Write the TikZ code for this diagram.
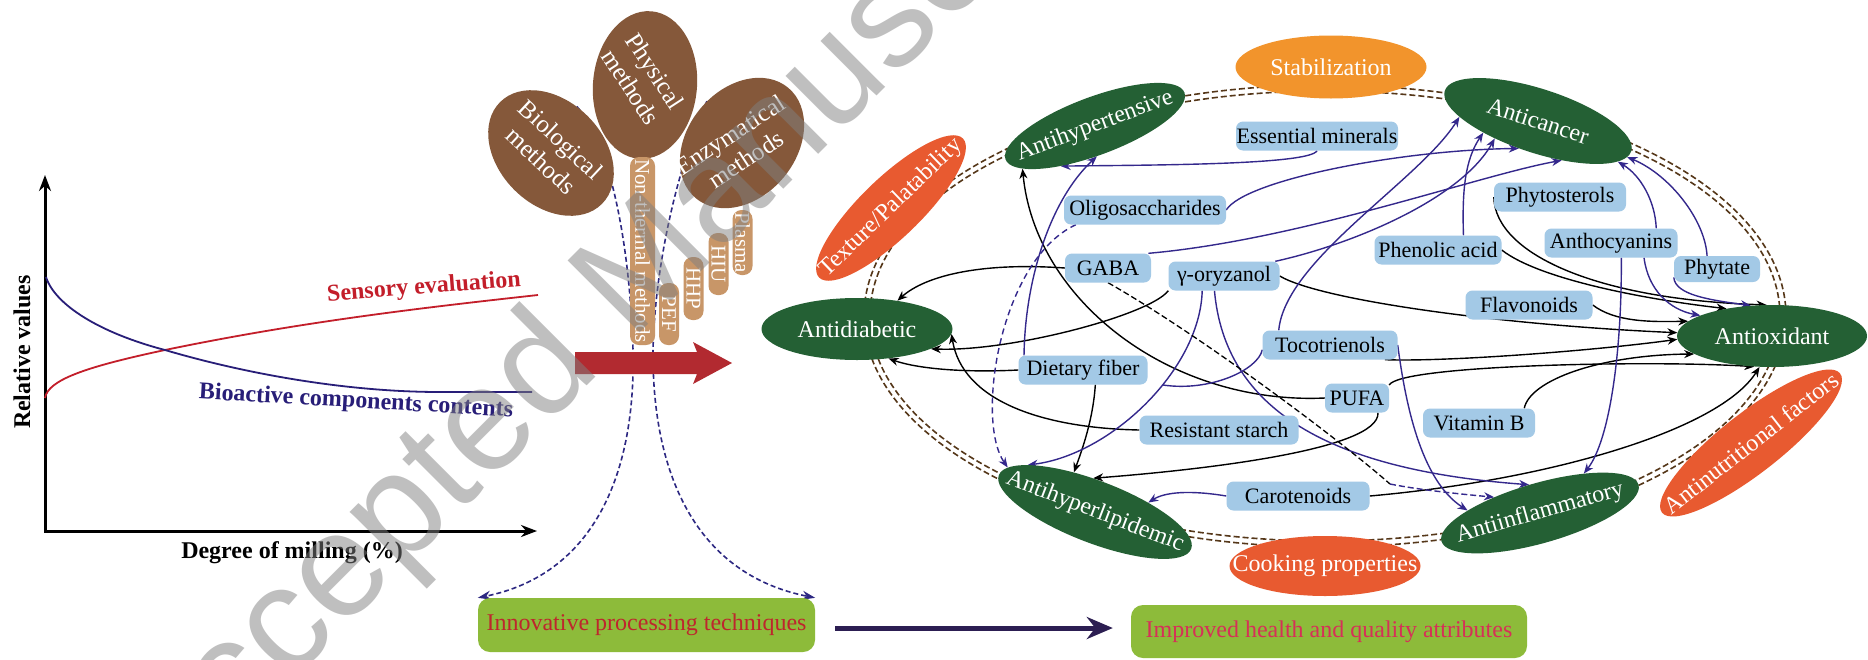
\documentclass[tikz,border=0pt]{standalone}
\usepackage{fontspec}
\setmainfont{Liberation Serif}
\newfontfamily\wmfont{Liberation Sans}
\usetikzlibrary{shapes.geometric,arrows.meta}
\pgfdeclarelayer{bg}\pgfdeclarelayer{edges}\pgfdeclarelayer{wm}
\pgfsetlayers{bg,edges,main,wm}
\definecolor{dgreen}{RGB}{36,96,52}
\definecolor{ored}{RGB}{232,90,48}
\definecolor{stabor}{RGB}{242,148,44}
\definecolor{mbrown}{RGB}{133,88,58}
\definecolor{mtan}{RGB}{200,150,104}
\definecolor{lblue}{RGB}{163,201,230}
\definecolor{lgreen}{RGB}{141,187,58}
\definecolor{arrred}{RGB}{178,42,48}
\definecolor{dashbr}{RGB}{85,55,25}
\definecolor{pline}{RGB}{52,40,140}
\definecolor{gred}{RGB}{195,30,42}
\definecolor{gblue}{RGB}{40,30,120}
\definecolor{navyarr}{RGB}{44,30,82}
\definecolor{innovred}{RGB}{190,38,45}
\definecolor{imprred}{RGB}{214,48,88}
\definecolor{dnavy}{RGB}{45,40,130}
\definecolor{wmgray}{RGB}{128,128,128}
\tikzset{
 ell/.style={ellipse, inner sep=0pt},
 gell/.style={ell, fill=dgreen},
 oell/.style={ell, fill=ored},
 etxt/.style={text=white, inner sep=0pt, font=\fontsize{24}{28}\selectfont},
 bx/.style={fill=lblue, rounded corners=7pt, inner sep=0pt, minimum height=29pt, font=\fontsize{22}{24}\selectfont, text=black},
 mtag/.style={fill=mtan, rounded corners=9pt, inner sep=0pt, text=white, font=\fontsize{21}{24}\selectfont, rotate=-90},
 meth/.style={ellipse, fill=mbrown, inner sep=0pt},
 methtxt/.style={text=white, align=center, inner sep=0pt, font=\fontsize{25}{29}\selectfont},
 conn/.style={line width=1.4pt, -{Stealth[length=10pt,width=8pt]}},
 bc/.style={conn, draw=black},
 pc/.style={conn, draw=pline},
 gbox/.style={fill=lgreen, rounded corners=12pt, inner sep=0pt, font=\fontsize{24}{28}\selectfont},
 gaxis/.style={line width=3pt},
 glabel/.style={inner sep=0pt, font=\bfseries\fontsize{24}{28}\selectfont},
 mdash/.style={draw=dnavy, line width=1.6pt, dash pattern=on 5pt off 3pt, -{Stealth[length=13pt,width=9pt]}},
 brdash/.style={draw=dashbr, line width=1.6pt, dash pattern=on 6pt off 3pt},
}
\begin{document}
\begin{tikzpicture}[x=1pt,y=-1pt]
\useasboundingbox (0,0) rectangle (1868,659);
\begin{pgfonlayer}{bg}
\fill[white] (0,0) rectangle (1868,659);
\draw[brdash] (1325,316) ellipse (455pt and 225pt);
\draw[brdash] (1325,316) ellipse (461pt and 231pt);
\end{pgfonlayer}

% ---------- left graph ----------
\draw[gaxis, {Stealth[length=16pt,width=12pt]}-{Stealth[length=16pt,width=12pt]}] (45,175) -- (45,531) -- (537,531);
\draw[gred, line width=1.8pt] (45,398) .. controls (48,380) and (85,367) .. (165,350) .. controls (300,322) and (420,308) .. (538,295);
\draw[gblue, line width=1.8pt] (46,277) .. controls (55,305) and (100,333) .. (165,350) .. controls (250,375) and (350,392) .. (440,392) -- (532,392);
\node[glabel, rotate=90] (yl) at (22,352) {Relative values};
\node[glabel] (xl) at (292,553) {Degree of milling (\%)};
\node[glabel, text=gred, rotate=4.5] (sens) at (424,288) {Sensory evaluation};
\node[glabel, text=gblue, rotate=-3.3] (bioa) at (356,402) {Bioactive components contents};

% ---------- middle ----------
\node[meth, minimum width=148pt, minimum height=104pt, rotate=85] (phys) at (645,85) {};
\node[meth, minimum width=144pt, minimum height=104pt, rotate=-45] (bio) at (551,153) {};
\node[meth, minimum width=144pt, minimum height=108pt, rotate=50] (enz) at (742,143) {};
\node[methtxt, rotate=-57] (phys-t) at (643,79) {Physical\\methods};
\node[methtxt, rotate=-43] (bio-t) at (551,150) {Biological\\methods};
\node[methtxt, rotate=33] (enz-t) at (738,147) {Enzymatical\\methods};

\node[mtag, minimum width=188pt, minimum height=25pt] (nth) at (642.5,251) {Non-thermal methods};
\node[mtag, minimum width=62pt, minimum height=20pt] (pef) at (669,314) {PEF};
\node[mtag, minimum width=63pt, minimum height=20pt] (hhp) at (693.5,288.5) {HHP};
\node[mtag, minimum width=62pt, minimum height=20pt] (hiu) at (718.5,264) {HIU};
\node[mtag, minimum width=65pt, minimum height=20pt] (plas) at (742.5,242.5) {Plasma};

\fill[arrred] (575,352) -- (697,352) -- (693,342) -- (732,363) -- (693,384) -- (697,374) -- (575,374) -- cycle;

\node[gbox, minimum width=337pt, minimum height=54pt, text=innovred] (innov) at (646.5,625) {Innovative processing techniques};
\node[gbox, minimum width=396pt, minimum height=53pt, text=imprred] (impr) at (1329,631.5) {Improved health and quality attributes};

% ---------- network nodes ----------
\node[ell, fill=stabor, minimum width=191pt, minimum height=63pt] (stab) at (1331,67) {};
\node[etxt] (stab-t) at (stab) {Stabilization};
\node[gell, minimum width=191pt, minimum height=58pt, rotate=20.5] (ahyp) at (1095,126) {};
\node[etxt, rotate=20.5] (ahyp-t) at (ahyp) {Antihypertensive};
\node[gell, minimum width=196pt, minimum height=64pt, rotate=-18] (acan) at (1538,121) {};
\node[etxt, rotate=-18] (acan-t) at (acan) {Anticancer};
\node[oell, minimum width=200pt, minimum height=60pt, rotate=44] (tex) at (891,208) {};
\node[etxt, rotate=44] (tex-t) at (tex) {Texture/Palatability};
\node[gell, minimum width=191pt, minimum height=62pt] (adia) at (857,329) {};
\node[etxt] (adia-t) at (adia) {Antidiabetic};
\node[gell, minimum width=190pt, minimum height=62pt] (aox) at (1772,336) {};
\node[etxt] (aox-t) at (aox) {Antioxidant};
\node[oell, minimum width=226pt, minimum height=60pt, rotate=38] (anut) at (1751,443) {};
\node[etxt, rotate=38] (anut-t) at (anut) {Antinutritional factors};
\node[gell, minimum width=205pt, minimum height=60pt, rotate=16] (ainf) at (1540,513) {};
\node[etxt, rotate=16] (ainf-t) at (ainf) {Antiinflammatory};
\node[gell, minimum width=206pt, minimum height=62pt, rotate=-21] (ahl) at (1095,512) {};
\node[etxt, rotate=-21] (ahl-t) at (ahl) {Antihyperlipidemic};
\node[oell, minimum width=191pt, minimum height=60pt] (cook) at (1325,566) {};
\node[etxt] (cook-t) at (cook) {Cooking properties};

\node[bx, minimum width=162pt] (essm) at (1317,136) {Essential minerals};
\node[bx, minimum width=162pt] (olig) at (1145,210) {Oligosaccharides};
\node[bx, minimum width=86pt] (gaba) at (1108,268) {GABA};
\node[bx, minimum width=111pt] (oryz) at (1224,276) {γ-oryzanol};
\node[bx, minimum width=127pt] (phen) at (1438,250) {Phenolic acid};
\node[bx, minimum width=132pt] (phyt) at (1560,197) {Phytosterols};
\node[bx, minimum width=133pt] (anth) at (1611,243) {Anthocyanins};
\node[bx, minimum width=86pt, minimum height=26pt] (phyta) at (1717,269) {Phytate};
\node[bx, minimum width=127pt] (flav) at (1529,305) {Flavonoids};
\node[bx, minimum width=135pt] (toco) at (1330,345) {Tocotrienols};
\node[bx, minimum width=129pt] (dfib) at (1083,370) {Dietary fiber};
\node[bx, minimum width=64pt] (pufa) at (1357,398) {PUFA};
\node[bx, minimum width=112pt] (vitb) at (1479,423) {Vitamin B};
\node[bx, minimum width=159pt] (rst) at (1219,430) {Resistant starch};
\node[bx, minimum width=143pt] (caro) at (1298,496) {Carotenoids};

% ---------- connectors ----------
\begin{pgfonlayer}{edges}
\draw[mdash] (bio.106) .. controls (612,145) and (630,250) .. (633,350) .. controls (636,480) and (590,575) .. (innov.north west);
\draw[mdash] (enz.80) .. controls (680,160) and (655,260) .. (653,350) .. controls (652,480) and (700,575) .. (innov.north east);

% black
\draw[bc] (gaba.west) .. controls (980,262) and (925,276) .. (adia.35);
\draw[bc] (oryz.south west) .. controls (1150,315) and (1010,352) .. (adia.-15);
\draw[bc] (dfib.west) .. controls (960,373) and (915,368) .. (adia.-43);
\draw[bc] (rst.west) .. controls (1040,428) and (962,400) .. (adia.-3);
\draw[bc] (pufa.west) .. controls (1170,405) and (1035,300) .. (ahyp.-170);
\draw[bc] (dfib.-50) .. controls (1093,420) and (1082,450) .. (ahl.139);
\draw[bc] (pufa.-35) .. controls (1380,450) and (1200,470) .. (ahl.114);
\draw[bc] (oryz.east) .. controls (1320,300) and (1500,325) .. (aox.178);
\draw[bc] (toco.-15) .. controls (1450,362) and (1600,350) .. (aox.-178);
\draw[bc] (vitb.18) .. controls (1530,380) and (1600,355) .. (aox.-167);
\draw[bc] (pufa.22) .. controls (1400,365) and (1650,360) .. (aox.-120);
\draw[bc] (phen.east) .. controls (1540,280) and (1650,300) .. (aox.149);
\draw[bc] (phyt.west) .. controls (1495,255) and (1600,300) .. (aox.100);
\draw[bc] (flav.east) .. controls (1615,322) and (1650,322) .. (aox.170);
\draw[bc] (caro.east) .. controls (1550,480) and (1720,430) .. (aox.-112);

% purple
\draw[pc] (essm.south) .. controls (1310,165) and (1150,165) .. (ahyp.-151);
\draw[pc] (dfib.166) .. controls (1025,280) and (1050,200) .. (ahyp.-107);
\draw[pc, dash pattern=on 6pt off 4pt] (olig.-168) .. controls (1000,260) and (975,420) .. (ahl.174);
\draw[pc] (oryz.-146) .. controls (1200,370) and (1110,455) .. (ahl.166);
\coordinate (m1) at (1163,385);
\draw[pline, line width=1.4pt] (toco.-176) .. controls (1258,370) and (1210,392) .. (m1);
\draw[pc] (oryz.-123) .. controls (1225,410) and (1330,470) .. (ainf.95);
\draw[pc] (toco.east) .. controls (1405,400) and (1420,480) .. (ainf.162);
\draw[pc] (anth.-55) .. controls (1622,350) and (1610,440) .. (ainf.26);
\draw[pc] (caro.west) .. controls (1190,490) and (1165,492) .. (ahl.31);
\coordinate (m2) at (1390,484);
\draw[black, line width=1.3pt, dash pattern=on 6pt off 3pt] (gaba.south) .. controls (1200,335) and (1340,440) .. (m2);
\draw[pc, dash pattern=on 6pt off 3pt] (m2) .. controls (1420,490) and (1460,494) .. (ainf.145);
\draw[pc] (gaba.20) .. controls (1300,240) and (1480,175) .. (acan.-41);
\draw[pc] (olig.east) .. controls (1245,180) and (1400,150) .. (acan.-107);
\draw[pc] (oryz.16) .. controls (1350,245) and (1460,200) .. (acan.-140);
\draw[pc] (toco.164) .. controls (1285,260) and (1420,180) .. (acan.-165);
\draw[pc] (phen.30) .. controls (1462,190) and (1465,160) .. (acan.-150);
\draw[pc] (anth.18) .. controls (1655,200) and (1640,175) .. (acan.-9);
\draw[pc] (phyta.127) .. controls (1705,220) and (1670,175) .. (acan.-4);
\draw[pc] (anth.-24) .. controls (1648,290) and (1670,310) .. (aox.164);
\draw[pc] (phyta.-169) .. controls (1675,295) and (1710,300) .. (aox.125);

\draw[line width=5pt, draw=navyarr, -{Stealth[length=26pt,width=22pt]}, shorten <=20pt, shorten >=18pt] ([yshift=-3pt]innov.east) -- ([yshift=3.5pt]impr.west);
\end{pgfonlayer}

% ---------- watermark ----------
\begin{pgfonlayer}{wm}
\node[anchor=base west, rotate=45, text=wmgray, text opacity=0.5, inner sep=0pt, font=\wmfont\fontsize{148}{148}\selectfont] (wmk) at (166,807) {Accepted Manuscript};
\end{pgfonlayer}
\end{tikzpicture}
\end{document}
